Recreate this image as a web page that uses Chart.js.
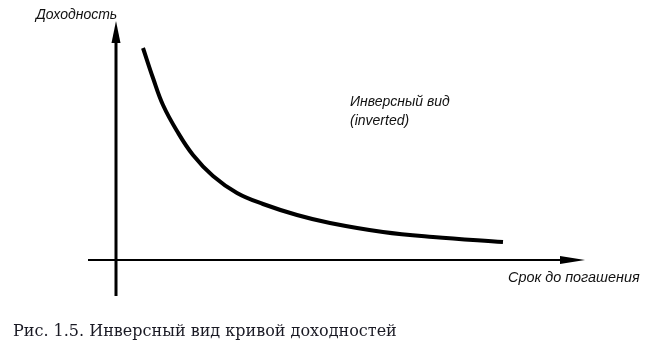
<!DOCTYPE html>
<html>
<head>
<meta charset="utf-8">
<script src="https://cdn.jsdelivr.net/npm/chart.js@4"></script>
<style>
  html, body { margin: 0; padding: 0; background: #fff; }
  #wrap { position: relative; width: 653px; height: 352px; }
  canvas { position: absolute; left: 0; top: 0; }
  .lbl { position: absolute; font-family: "Liberation Sans", Arial, sans-serif; font-style: italic; font-size: 14px; color: #111; white-space: nowrap; line-height: 1; }
  .cap { position: absolute; font-family: "DejaVu Serif", "Liberation Serif", serif; font-size: 16px; color: #1a1a24; white-space: nowrap; line-height: 1; }
</style>
</head>
<body>
<div id="wrap">
  <canvas id="c" width="653" height="352"></canvas>
  <div class="lbl" id="lbl-y" style="left:36px; top:7px;">Доходность</div>
  <div class="lbl" id="lbl-x" style="left:508px; top:270px; font-size:14.4px;">Срок до погашения</div>
  <div class="lbl" id="lbl-n1" style="left:350px; top:94px;">Инверсный вид</div>
  <div class="lbl" id="lbl-n2" style="left:350px; top:113px;">(inverted)</div>
  <div class="cap" id="cap" style="left:13px; top:323px;">Рис. 1.5. Инверсный вид кривой доходностей</div>
</div>
<script>
  // Curve (units: origin at the axis crossing)
  const maturity = [27, 37, 47, 61, 77, 97, 121, 147, 181, 214, 267, 317, 387];
  const yieldVals = [212, 182, 155, 129, 105, 84, 67, 56, 45, 37, 28, 23, 18];

  // Axis extents in the same units
  const xAxisRange = [-28, 469];
  const yAxisRange = [-36, 239];

  // Visible window of the chart in data units
  const xWindow = [-116, 537];
  const yWindow = [-92, 260];

  // ── Axes with arrowheads, drawn through the chart's scales ────────────────
  const arrowAxes = {
    id: "arrowAxes",
    beforeDatasetsDraw(chart) {
      const { ctx, scales: { x, y } } = chart;
      const x0 = x.getPixelForValue(0), y0 = y.getPixelForValue(0);
      ctx.save();
      ctx.strokeStyle = "#000";
      ctx.fillStyle = "#000";
      // vertical axis
      const yTop = y.getPixelForValue(yAxisRange[1]);
      ctx.lineWidth = 3;
      ctx.beginPath();
      ctx.moveTo(x0, y.getPixelForValue(yAxisRange[0]));
      ctx.lineTo(x0, yTop + 15);
      ctx.stroke();
      ctx.beginPath();
      ctx.moveTo(x0, yTop);
      ctx.lineTo(x0 - 4.5, yTop + 22);
      ctx.lineTo(x0 + 4.5, yTop + 22);
      ctx.closePath();
      ctx.fill();
      // horizontal axis
      const xEnd = x.getPixelForValue(xAxisRange[1]);
      ctx.lineWidth = 2;
      ctx.beginPath();
      ctx.moveTo(x.getPixelForValue(xAxisRange[0]), y0);
      ctx.lineTo(xEnd - 15, y0);
      ctx.stroke();
      ctx.beginPath();
      ctx.moveTo(xEnd, y0);
      ctx.lineTo(xEnd - 25, y0 - 4);
      ctx.lineTo(xEnd - 25, y0 + 4);
      ctx.closePath();
      ctx.fill();
      ctx.restore();
    }
  };

  new Chart(document.getElementById("c"), {
    type: "line",
    data: {
      datasets: [{
        data: maturity.map((m, i) => ({ x: m, y: yieldVals[i] })),
        borderColor: "#000",
        borderWidth: 4,
        pointRadius: 0,
        tension: 0.4,
        borderCapStyle: "butt",
        fill: false
      }]
    },
    options: {
      responsive: false,
      animation: false,
      layout: { padding: 0 },
      plugins: { legend: { display: false }, tooltip: { enabled: false } },
      scales: {
        x: { type: "linear", min: xWindow[0], max: xWindow[1], display: false },
        y: { type: "linear", min: yWindow[0], max: yWindow[1], display: false }
      }
    },
    plugins: [arrowAxes]
  });
</script>
</body>
</html>
